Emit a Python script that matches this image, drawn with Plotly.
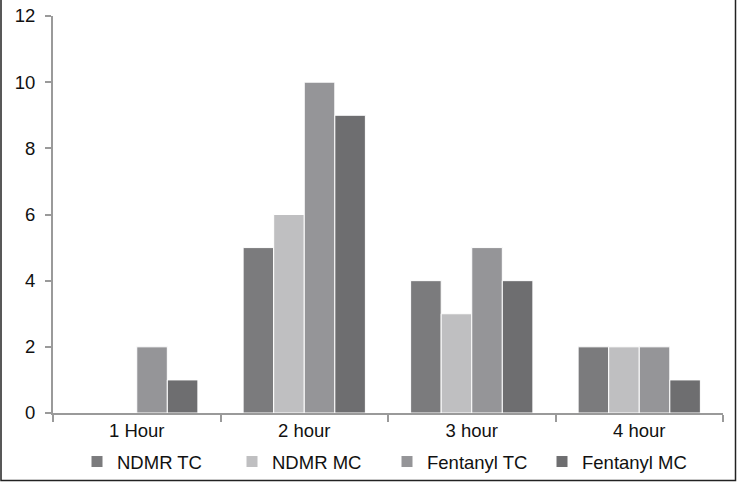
import plotly.graph_objects as go

categories = ["1 Hour", "2 hour", "3 hour", "4 hour"]
series_names = ["NDMR TC", "NDMR MC", "Fentanyl TC", "Fentanyl MC"]
ndmr_tc = [0, 5, 4, 2]
ndmr_mc = [0, 6, 3, 2]
fentanyl_tc = [2, 10, 5, 2]
fentanyl_mc = [1, 9, 4, 1]
y_ticks = [0, 2, 4, 6, 8, 10, 12]

colors = ["#7b7b7d", "#bfbfc1", "#959598", "#6e6e70"]
values = [ndmr_tc, ndmr_mc, fentanyl_tc, fentanyl_mc]

fig = go.Figure()
for name, vals, col in zip(series_names, values, colors):
    fig.add_trace(go.Bar(
        x=categories, y=vals, name=name,
        marker=dict(color=col, line=dict(color="white", width=1)),
    ))

W, H = 737, 482
L, R, T, B = 53, 14, 16, 69
pw, ph = W - L - R, H - T - B

def px(x):
    return (x - L) / pw

def py(y):
    return (H - B - y) / ph

bx0, bx1, by0, by1 = px(1), px(735.5), py(-5), py(480.5)
border_path = f"M {bx0},{by0} L {bx0},{by1} L {bx1},{by1} L {bx1},{by0}"

fig.update_layout(
    width=W, height=H,
    margin=dict(l=L, r=R, t=T, b=B, pad=0, autoexpand=False),
    paper_bgcolor="white", plot_bgcolor="white",
    barmode="group", bargap=0.27, bargroupgap=0,
    font=dict(family="Liberation Sans, Arial, sans-serif", size=18.5, color="#111111"),
    showlegend=True,
    legend=dict(orientation="h", x=px(387), xanchor="center", y=py(462), yanchor="middle",
                font=dict(size=18.5), itemwidth=30, entrywidth=110, entrywidthmode="pixels",
                bgcolor="rgba(0,0,0,0)"),
    xaxis=dict(showline=True, linecolor="#9a9a9a", linewidth=2, ticks="outside",
               tickson="boundaries", ticklen=7, tickcolor="#9a9a9a", tickwidth=2,
               showgrid=False, zeroline=False, automargin=False),
    yaxis=dict(range=[0, 12], tickvals=y_ticks, showline=True, linecolor="#9a9a9a", linewidth=2,
               ticks="outside", ticklen=6, tickcolor="#9a9a9a", tickwidth=2,
               ticklabelstandoff=6, showgrid=False, zeroline=False, automargin=False),
    shapes=[dict(type="path", xref="paper", yref="paper", path=border_path,
                 line=dict(color="#222222", width=1.5))],
)

fig.write_html("out.html", config={"displayModeBar": False},
               post_script="document.body.style.margin='0';document.body.style.overflow='hidden';")
